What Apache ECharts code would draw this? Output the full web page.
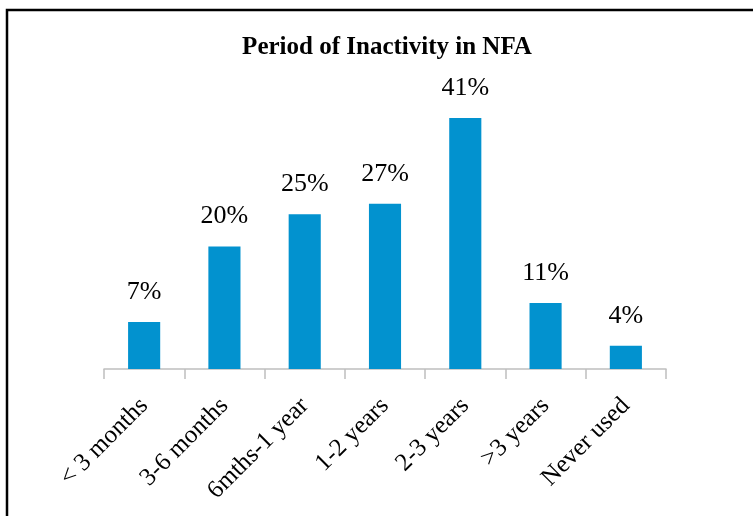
<!DOCTYPE html>
<html>
<head>
<meta charset="utf-8">
<script src="https://cdn.jsdelivr.net/npm/echarts@6/dist/echarts.min.js"></script>
<style>
html,body{margin:0;padding:0;background:#fff;}
#chart{width:753px;height:516px;}
</style>
</head>
<body>
<div id="chart"></div>
<script>
var categories = ['< 3 months', '3-6 months', '6mths-1 year', '1-2 years', '2-3 years', '>3 years', 'Never used'];
var values = [7.7, 20, 25.3, 27, 41, 10.8, 3.8];
var valueLabels = ['7%', '20%', '25%', '27%', '41%', '11%', '4%'];
var titleText = 'Period of Inactivity in NFA';

var chart = echarts.init(document.getElementById('chart'), null, {renderer: 'canvas'});
var font = '"Liberation Serif", "Times New Roman", serif';
chart.setOption({
  backgroundColor: '#ffffff',
  animation: false,
  title: {
    text: titleText,
    left: 382,
    top: 30,
    textAlign: 'center',
    textStyle: {fontFamily: font, fontWeight: 'bold', fontSize: 25, color: '#000'}
  },
  graphic: [{
    type: 'rect',
    shape: {x: 7, y: 10, width: 900, height: 700},
    style: {fill: 'none', stroke: '#000', lineWidth: 2.5},
    silent: true
  }],
  grid: {left: 104, right: 87, top: 93.6, bottom: 147, containLabel: false},
  xAxis: {
    type: 'category',
    data: categories,
    axisLine: {lineStyle: {color: '#BFBFBF', width: 1.5}},
    axisTick: {show: true, length: 10, lineStyle: {color: '#BFBFBF', width: 1.5}},
    axisLabel: {rotate: 45, margin: 33, interval: 0, fontFamily: font, fontSize: 25, color: '#000'}
  },
  yAxis: {
    type: 'value', min: 0, max: 45, show: false,
    splitLine: {show: false}
  },
  series: [{
    type: 'bar',
    data: values,
    barWidth: '40%',
    itemStyle: {color: '#0292CF'},
    label: {
      show: true, position: 'top', distance: 17,
      fontFamily: font, fontSize: 26, color: '#000',
      formatter: function (p) { return valueLabels[p.dataIndex]; }
    }
  }]
});
</script>
</body>
</html>
